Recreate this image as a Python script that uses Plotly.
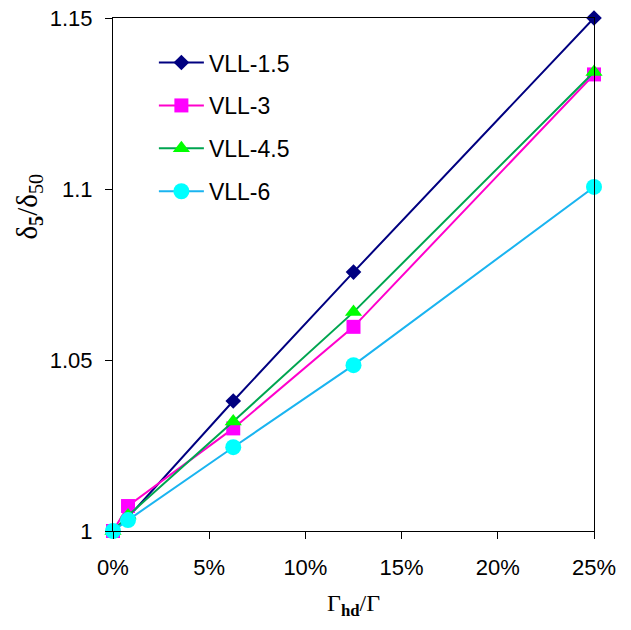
import plotly.graph_objects as go

# Share of hd (x axis, fraction) and delta_5/delta_50 ratios per series
x_vals = [0.0, 0.0078125, 0.0625, 0.125, 0.25]

vll_15 = [1.0, 1.004, 1.038, 1.0757, 1.15]
vll_3 = [1.0, 1.0073, 1.030, 1.0597, 1.1335]
vll_45 = [1.0, 1.0045, 1.032, 1.064, 1.1342]
vll_6 = [1.0, 1.0032, 1.0245, 1.0485, 1.1006]

series_names = ["VLL-1.5", "VLL-3", "VLL-4.5", "VLL-6"]
x_ticks = [0.0, 0.05, 0.10, 0.15, 0.20, 0.25]
x_tick_text = ["0%", "5%", "10%", "15%", "20%", "25%"]
y_ticks = [1.0, 1.05, 1.1, 1.15]
y_tick_text = ["1", "1.05", "1.1", "1.15"]

styles = [
    dict(line="#000080", marker="#000080", symbol="diamond", size=12),
    dict(line="#FF00CC", marker="#FF00FF", symbol="square", size=14),
    dict(line="#00A550", marker="#00FF00", symbol="triangle-up", size=15),
    dict(line="#1AB4F0", marker="#00FFFF", symbol="circle", size=16),
]

fig = go.Figure()
for name, ys, st in zip(series_names, [vll_15, vll_3, vll_45, vll_6], styles):
    fig.add_trace(go.Scatter(
        x=x_vals, y=ys, name=name, mode="lines+markers",
        line=dict(color=st["line"], width=2),
        marker=dict(color=st["marker"], symbol=st["symbol"], size=st["size"],
                    line=dict(width=0)),
        cliponaxis=False, legendgroup=name,
    ))

axis_common = dict(
    showline=True, linecolor="black", linewidth=1, mirror=True,
    showgrid=False, zeroline=False, ticks="outside", ticklen=7,
    tickcolor="black", tickwidth=1, automargin=False,
    tickfont=dict(family="Liberation Sans, Arial", size=22, color="black"),
)

fig.update_layout(
    width=631, height=630,
    margin=dict(l=113, r=37, t=18, b=99, autoexpand=False),
    paper_bgcolor="white", plot_bgcolor="white",
    xaxis=dict(range=[0, 0.25], tickvals=x_ticks, ticktext=x_tick_text,
               ticklabelstandoff=10, **axis_common),
    yaxis=dict(range=[1.0, 1.15], tickvals=y_ticks, ticktext=y_tick_text,
               ticklabelstandoff=8, **axis_common),
    showlegend=True,
    legend=dict(x=0.085, y=0.955, xanchor="left", yanchor="top",
                bgcolor="rgba(0,0,0,0)", borderwidth=0,
                tracegroupgap=10, itemwidth=45,
                font=dict(family="Liberation Sans, Arial", size=23, color="black")),
    annotations=[
        dict(text="Γ<sub><b>hd</b></sub>/Γ", xref="paper", yref="paper",
             x=0.5, y=-0.145, xanchor="center", yanchor="middle",
             showarrow=False,
             font=dict(family="Liberation Serif, Times New Roman", size=24, color="black")),
        dict(text="δ<sub><b>5</b></sub>/δ<sub>50</sub>", xref="paper", yref="paper",
             x=-0.175, y=0.632, xanchor="center", yanchor="middle",
             textangle=-90, showarrow=False,
             font=dict(family="Liberation Serif, Times New Roman", size=29, color="black")),
    ],
)

fig.write_html("out.html")
